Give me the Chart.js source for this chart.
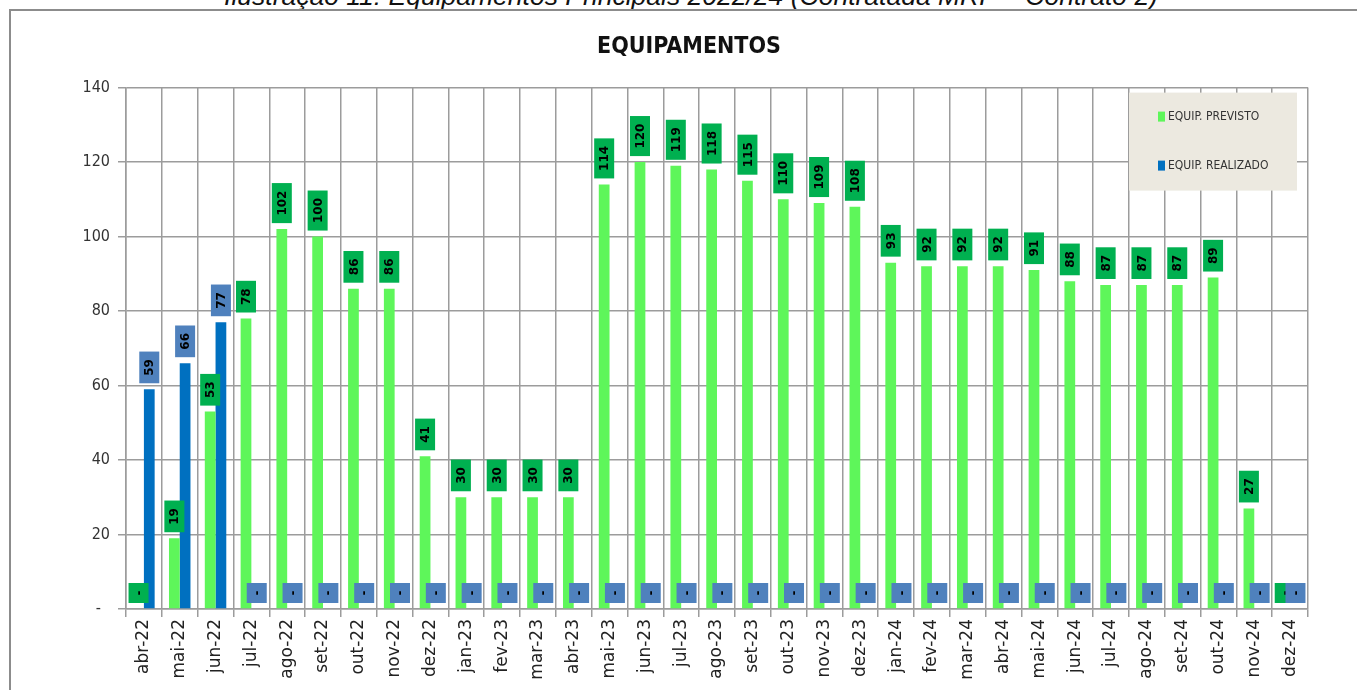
<!DOCTYPE html>
<html>
<head>
<meta charset="utf-8">
<script src="https://cdn.jsdelivr.net/npm/chart.js@4/dist/chart.umd.min.js"></script>
<style>
  html, body { margin: 0; padding: 0; background: #fff; overflow: hidden; }
  #pagina { position: relative; width: 1357px; height: 690px; overflow: hidden; }
  #legenda-fig {
    position: absolute; left: 0; top: -17px; width: 1382px; text-align: center;
    font: italic 26.5px/26px "Liberation Sans", Arial, sans-serif; color: #111; white-space: nowrap;
  }
  #moldura {
    position: absolute; left: 9px; top: 9px; width: 1400px; height: 720px;
    border-left: 2px solid #8c8c8c; border-top: 2px solid #8c8c8c;
  }
  #grafico { position: absolute; left: 0; top: 0; }
</style>
</head>
<body>
<div id="pagina">
  <div id="legenda-fig">Ilustração 11: Equipamentos Principais 2022/24 (Contratada MRP – Contrato 2)</div>
  <div id="moldura"></div>
  <canvas id="grafico" width="1357" height="690"></canvas>
</div>
<script>
meses = ['abr-22', 'mai-22', 'jun-22', 'jul-22', 'ago-22', 'set-22', 'out-22', 'nov-22', 'dez-22',
  'jan-23', 'fev-23', 'mar-23', 'abr-23', 'mai-23', 'jun-23', 'jul-23', 'ago-23', 'set-23', 'out-23', 'nov-23', 'dez-23',
  'jan-24', 'fev-24', 'mar-24', 'abr-24', 'mai-24', 'jun-24', 'jul-24', 'ago-24', 'set-24', 'out-24', 'nov-24', 'dez-24']

previsto = [0, 19, 53, 78, 102, 100, 86, 86, 41,
  30, 30, 30, 30, 114, 120, 119, 118, 115, 110, 109, 108,
  93, 92, 92, 92, 91, 88, 87, 87, 87, 89, 27, 0]

realizado = [59, 66, 77, 0, 0, 0, 0, 0, 0,
  0, 0, 0, 0, 0, 0, 0, 0, 0, 0, 0, 0,
  0, 0, 0, 0, 0, 0, 0, 0, 0, 0, 0, 0]

ticksY = [0, 20, 40, 60, 80, 100, 120, 140]

corGrade = '#9c9c9c'
fonteNarrow = '"Liberation Sans Narrow", "Arial Narrow", "DejaVu Sans Condensed", sans-serif'

// rotulos de dados (caixinhas giradas em cima de cada barra)
const pluginRotulos = {
  id: 'rotulos',
  afterDatasetsDraw(chart) {
    const ctx = chart.ctx
    ctx.save()
    ctx.font = 'bold 12px "DejaVu Sans", Verdana, sans-serif'
    chart.data.datasets.forEach((ds, i) => {
      const meta = chart.getDatasetMeta(i)
      meta.data.forEach((barra, j) => {
        const v = ds.data[j]
        const txt = v === 0 ? '-' : String(v)
        const w = ctx.measureText(txt).width
        const h = Math.max(20, w + 15)
        const baixo = barra.y - 6
        ctx.fillStyle = ds.corRotulo
        ctx.fillRect(barra.x - 10, baixo - h, 20, h)
        ctx.save()
        ctx.translate(barra.x, baixo - h / 2)
        ctx.rotate(-Math.PI / 2)
        ctx.fillStyle = '#000'
        ctx.textAlign = 'center'
        ctx.textBaseline = 'middle'
        ctx.fillText(txt, 0, 1)
        ctx.restore()
      })
    })
    ctx.restore()
  }
}

// legenda dentro da area do grafico, canto superior direito
const pluginLegenda = {
  id: 'legendaCaixa',
  afterDraw(chart) {
    const ctx = chart.ctx
    const area = chart.chartArea
    const larg = 168, alt = 98
    const x0 = area.right - 11 - larg
    const y0 = area.top + 5
    ctx.save()
    ctx.fillStyle = '#ece9e0'
    ctx.fillRect(x0, y0, larg, alt)
    ctx.font = '12px ' + fonteNarrow
    ctx.textBaseline = 'middle'
    chart.data.datasets.forEach((ds, i) => {
      const cy = y0 + 24 + i * 49
      ctx.fillStyle = ds.backgroundColor
      ctx.fillRect(x0 + 29, cy - 5, 7, 10)
      ctx.fillStyle = '#333'
      ctx.fillText(ds.label, x0 + 39, cy)
    })
    ctx.restore()
  }
}

function makeConfig() {
  return {
    type: 'bar',
    data: {
      labels: meses,
      datasets: [
        {
          label: 'EQUIP. PREVISTO',
          data: previsto,
          backgroundColor: '#5ef65a',
          corRotulo: '#00b050',
          categoryPercentage: 0.6,
          barPercentage: 1.0,
        },
        {
          label: 'EQUIP. REALIZADO',
          data: realizado,
          backgroundColor: '#0070c0',
          corRotulo: '#4f81bd',
          categoryPercentage: 0.6,
          barPercentage: 1.0,
        },
      ],
    },
    options: {
      responsive: false,
      animation: false,
      layout: {
        padding: { left: 70, right: 49, top: 0, bottom: 0 },
      },
      plugins: {
        legend: { display: false },
        tooltip: { enabled: false },
        title: {
          display: true,
          text: 'EQUIPAMENTOS',
          color: '#111',
          font: { family: fonteNarrow, size: 23, weight: 'bold' },
          padding: { top: 33, bottom: 27 },
        },
      },
      scales: {
        x: {
          afterFit: function (scale) { scale.height = 81 },
          grid: { offset: true, color: corGrade, lineWidth: 1.5, tickLength: 8, drawTicks: true },
          border: { color: corGrade, width: 1.5 },
          ticks: {
            autoSkip: false,
            minRotation: 90,
            maxRotation: 90,
            padding: 2,
            color: '#222',
            font: { family: '"DejaVu Sans", Verdana, sans-serif', size: 17 },
          },
        },
        y: {
          min: 0,
          max: 140,
          afterFit: function (scale) { scale.width = 56 },
          afterBuildTicks: function (scale) {
            scale.ticks = ticksY.map(function (v) { return { value: v } })
          },
          grid: { color: corGrade, lineWidth: 1.5, tickLength: 8, drawTicks: true },
          border: { color: corGrade, width: 1.5 },
          ticks: {
            padding: 8,
            color: '#333',
            font: { family: fonteNarrow, size: 16 },
            callback: function (val) {
              return val === 0 ? '-  ' : val
            },
          },
        },
      },
    },
    plugins: [pluginRotulos, pluginLegenda],
  }
}

var ctx = document.getElementById('grafico').getContext('2d')
window.graficoEquip = new Chart(ctx, makeConfig())
</script>
</body>
</html>
